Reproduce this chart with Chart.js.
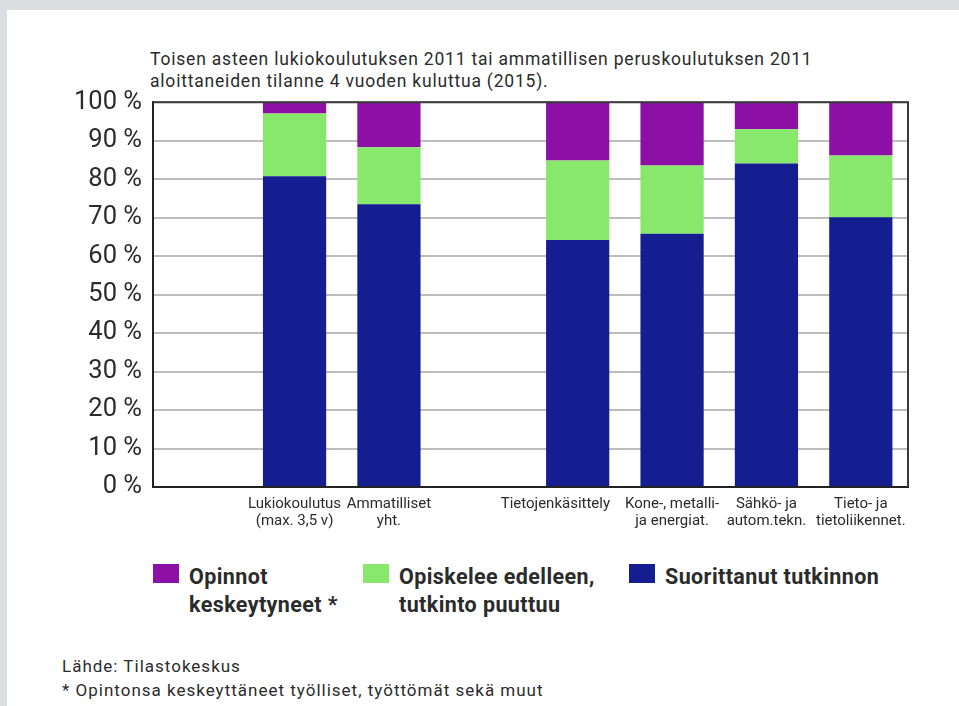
<!DOCTYPE html>
<html>
<head>
<meta charset="utf-8">
<script src="https://cdn.jsdelivr.net/npm/chart.js@4.4.0/dist/chart.umd.min.js"></script>
<style>
  html, body { margin: 0; padding: 0; background: #dcdde0; }
  body { width: 959px; height: 706px; position: relative; overflow: hidden; font-family: Roboto, "Liberation Sans", sans-serif; }
  .panel { position: absolute; left: 7px; top: 10px; width: 960px; height: 700px; background: #fff; }
  .title { position: absolute; left: 150px; top: 48px; font-size: 17.5px; letter-spacing: 0.8px; line-height: 22px; color: #2b2b2b; }
  .box { position: absolute; left: 7px; top: 76px; width: 920px; height: 454px; }
  .legend { position: absolute; top: 563px; font-weight: bold; font-size: 21.5px; letter-spacing: 0.4px; line-height: 28px; color: #2b2b2b; }
  .legend .sw { position: absolute; left: 0; top: 1px; width: 26px; height: 19px; }
  .legend .txt { position: absolute; top: 0; left: 36px; white-space: nowrap; }
  .foot { position: absolute; left: 62px; top: 654px; font-size: 17px; letter-spacing: 1px; line-height: 24px; color: #2b2b2b; }
</style>
</head>
<body>
<div class="panel"></div>
<div class="title">Toisen asteen lukiokoulutuksen 2011 tai ammatillisen peruskoulutuksen 2011<br>aloittaneiden tilanne 4 vuoden kuluttua (2015).</div>
<div class="box"><canvas id="chart" width="920" height="454"></canvas></div>
<div id="legend"></div>
<div class="foot">Lähde: Tilastokeskus<br>* Opintonsa keskeyttäneet työlliset, työttömät sekä muut</div>
<script>
// categories (empty slots leave gaps between the groups);
// trailing no-break spaces nudge the long label left so it clears its neighbour
const categories = [
  '',
  ['Lukiokoulutus', '(max. 3,5 v)'],
  ['Ammatilliset', 'yht.'],
  '',
  'Tietojenkäsittely\u00a0\u00a0\u00a0\u00a0\u00a0\u00a0\u00a0\u00a0\u00a0\u00a0\u00a0\u00a0',
  ['Kone-, metalli-', 'ja energiat.'],
  ['Sähkö- ja', 'autom.tekn.'],
  ['Tieto- ja', 'tietoliikennet.']
];

// shares in percent
const completed   = [null, 80.8, 73.5, null, 64.2, 65.8, 84.1, 70.1];
const stillStudy  = [null, 16.3, 14.8, null, 20.7, 17.8,  8.9, 16.1];
const interrupted = [null,  2.9, 11.7, null, 15.1, 16.4,  7.0, 13.8];

const yTicks = [0, 10, 20, 30, 40, 50, 60, 70, 80, 90, 100];

const seriesNames = ['Suorittanut tutkinnon', 'Opiskelee edelleen, tutkinto puuttuu', 'Opinnot keskeytyneet *'];
const seriesColors = ['#141e91', '#87e86b', '#8c10a6'];

// frame on top and right of plot area
const frame = {
  id: 'frame',
  afterDraw(chart) {
    const { ctx, chartArea: a } = chart;
    ctx.save();
    ctx.strokeStyle = '#3a3a3a';
    ctx.lineWidth = 2;
    ctx.beginPath();
    ctx.moveTo(a.left, a.top);
    ctx.lineTo(a.right, a.top);
    ctx.lineTo(a.right, a.bottom);
    ctx.stroke();
    ctx.restore();
  }
};

const bar = (label, data, color) => ({
  label, data, backgroundColor: color, borderWidth: 0,
  barPercentage: 0.67, categoryPercentage: 1
});

new Chart(document.getElementById('chart'), {
  type: 'bar',
  data: {
    labels: categories,
    datasets: [
      bar(seriesNames[0], completed, seriesColors[0]),
      bar(seriesNames[1], stillStudy, seriesColors[1]),
      bar(seriesNames[2], interrupted, seriesColors[2])
    ]
  },
  options: {
    responsive: false,
    animation: false,
    layout: { padding: { top: 0, right: 19, left: 0, bottom: 0 } },
    plugins: { legend: { display: false }, tooltip: { enabled: false } },
    scales: {
      x: {
        stacked: true,
        grid: { display: false },
        border: { display: true, color: '#222', width: 2 },
        ticks: {
          color: '#2b2b2b', padding: 1, maxRotation: 0, autoSkip: false,
          font: { family: 'Roboto', size: 15, lineHeight: 1.1 }
        },
        afterFit(s) { s.height = 43; }
      },
      y: {
        stacked: true,
        min: 0, max: 100,
        afterBuildTicks(s) { s.ticks = yTicks.map(v => ({ value: v })); },
        grid: { color: '#bdbdbd', lineWidth: 2, drawTicks: false },
        border: { display: true, color: '#222', width: 2 },
        ticks: {
          color: '#2b2b2b', padding: 11,
          font: { family: 'Roboto', size: 25.5 },
          callback: v => v + ' %'
        },
        afterFit(s) { s.width = 146; }
      }
    }
  },
  plugins: [frame]
});

// legend: shown in reverse stacking order
const legendPos = [
  { left: 153, text: 'Opinnot<br>keskeytyneet *', idx: 2 },
  { left: 363, text: 'Opiskelee edelleen,<br>tutkinto puuttuu', idx: 1 },
  { left: 629, text: 'Suorittanut tutkinnon', idx: 0 }
];
const legendEl = document.getElementById('legend');
legendPos.forEach(p => {
  const d = document.createElement('div');
  d.className = 'legend';
  d.style.left = p.left + 'px';
  d.innerHTML = `<div class="sw" style="background:${seriesColors[p.idx]}"></div><div class="txt">${p.text}</div>`;
  legendEl.appendChild(d);
});
</script>
</body>
</html>
